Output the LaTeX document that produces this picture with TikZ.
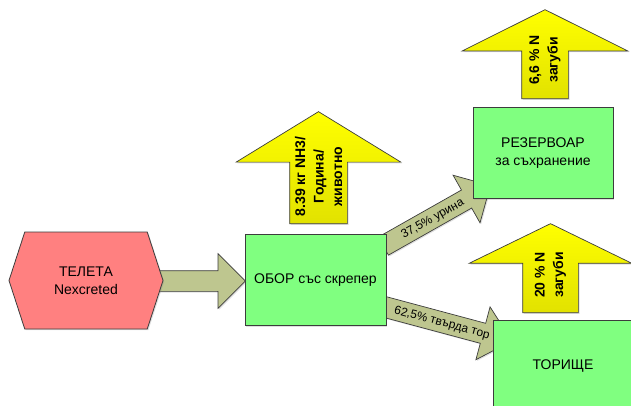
\documentclass[tikz,border=0pt]{standalone}
\usepackage{fontspec}
\setmainfont{Liberation Sans}
\usetikzlibrary{shapes.arrows,shapes.symbols,shadows,positioning}

\definecolor{stagegreen}{RGB}{128,255,128}
\definecolor{sourcered}{RGB}{255,128,128}
\definecolor{flowolive}{RGB}{190,198,143}
\definecolor{lossbright}{RGB}{255,255,0}
\definecolor{lossdark}{RGB}{226,226,0}
\definecolor{rim}{RGB}{60,60,60}

\begin{document}
\begin{tikzpicture}
  [
    x=1pt, y=-1pt,
    Stage/.style={rectangle, draw=rim, fill=stagegreen, line width=0.8pt, minimum width=141pt, minimum height=91pt, align=center, font=\fontsize{14}{18}\selectfont, drop shadow={shadow xshift=1.2pt, shadow yshift=-1.2pt, opacity=0.25}},
    Source/.style={signal, signal to=west and east, signal pointer angle=144, draw=rim, fill=sourcered, line width=0.8pt, minimum width=154pt, minimum height=97pt, align=center, font=\fontsize{14}{18}\selectfont, drop shadow={shadow xshift=1.2pt, shadow yshift=-1.2pt, opacity=0.25}},
    Flow/.style={single arrow, anchor=tail, draw=rim, fill=flowolive, line width=0.7pt, inner sep=0pt, text height=13.8pt, text depth=6.2pt, single arrow head extend=17pt, single arrow tip angle=90, font=\fontsize{12}{13}\selectfont, drop shadow={shadow xshift=1.2pt, shadow yshift=-1.2pt, opacity=0.25}},
    Loss/.style={single arrow, anchor=tail, rotate=90, draw=rim, top color=lossbright, bottom color=lossdark, line width=0.7pt, inner xsep=0pt, drop shadow={shadow xshift=1.2pt, shadow yshift=-1.2pt, opacity=0.25}},
    LossText/.style={rotate=90, align=center, inner sep=0pt, font=\bfseries\fontsize{14}{18.5}\selectfont}
  ]
  \useasboundingbox (0,0) rectangle (631,405);
  \clip (0,0) rectangle (631,405);

  % Flows (behind the boxes)
  \node[Flow, minimum height=87pt] (f0) at (158,281) {};
  \node[Flow, minimum height=123pt, rotate=29.5] (f1) at (383,246.3) {37,5\% урина};
  \node[Flow, minimum height=133pt, rotate=-15, single arrow tip angle=85] (f2) at (383,306.5) {62,5\% твърда тор};

  % Stages
  \node[Source] (teleta) at (86,280.5) {ТЕЛЕТА\\Nexcreted};
  \node[Stage] (obor) at (315.5,280) {ОБОР със скрепер};
  \node[Stage, minimum width=140pt] (rezervoar) at (543,153) {РЕЗЕРВОАР\\за съхранение};
  \node[Stage, minimum width=140pt, minimum height=92pt] (torishte) at (563,366) {ТОРИЩЕ};

  % Losses
  \node[Loss, minimum height=112pt, inner ysep=28.5pt, single arrow head extend=53.5pt, single arrow tip angle=117] (l1) at (318.5,224) {};
  \node[Loss, minimum height=89pt, inner ysep=23pt, single arrow head extend=59.5pt, single arrow tip angle=127] (l2) at (545,99) {};
  \node[Loss, minimum height=89pt, inner ysep=27.5pt, single arrow head extend=53.5pt, single arrow tip angle=128] (l3) at (550.5,313) {};
  \node[LossText] (l1text) at (l1.center) {8.39 кг NH3/\\Година/\\животно};
  \node[LossText] (l2text) at (l2.center) {6,6 \% N\\загуби};
  \node[LossText] (l3text) at (l3.center) {20 \% N\\загуби};

\end{tikzpicture}
\end{document}
